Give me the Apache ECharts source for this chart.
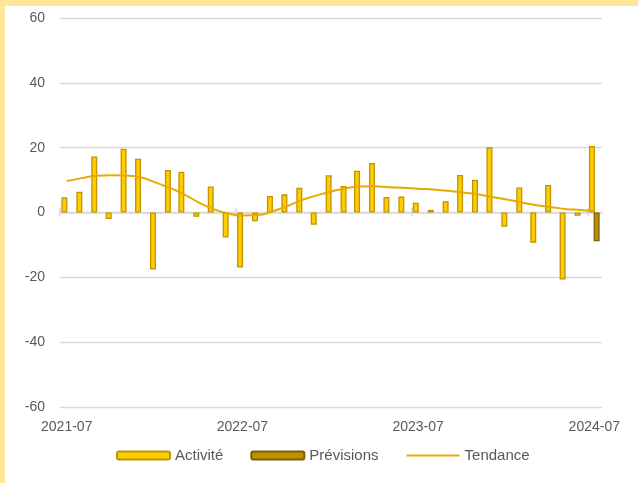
<!DOCTYPE html>
<html>
<head>
<meta charset="utf-8">
<script src="https://cdn.jsdelivr.net/npm/echarts@6/dist/echarts.min.js"></script>
<style>
  html, body { margin: 0; padding: 0; background: #fff; }
  #chart { position: absolute; left: 0; top: 0; width: 638px; height: 483px; }
  .band { position: absolute; background: #ffe699; }
</style>
</head>
<body>
<div id="chart"></div>
<div class="band" style="left:0;top:0;width:638px;height:6px"></div>
<div class="band" style="left:0;top:0;width:5px;height:483px"></div>
<script>
  // mois (donnees au 15 du mois)
  const months = [
    '2021-07', '2021-08', '2021-09', '2021-10', '2021-11', '2021-12',
    '2022-01', '2022-02', '2022-03', '2022-04', '2022-05', '2022-06',
    '2022-07', '2022-08', '2022-09', '2022-10', '2022-11', '2022-12',
    '2023-01', '2023-02', '2023-03', '2023-04', '2023-05', '2023-06',
    '2023-07', '2023-08', '2023-09', '2023-10', '2023-11', '2023-12',
    '2024-01', '2024-02', '2024-03', '2024-04', '2024-05', '2024-06',
    '2024-07'
  ]
  const activite = [
    4.7, 6.4, 17.3, -2.0, 19.7, 16.6, -17.6, 13.1, 12.6, -1.3, 8.0, -7.7,
    -17.0, -2.7, 5.1, 5.6, 7.6, -3.8, 11.5, 8.2, 12.9, 15.3, 4.8, 4.9,
    3.0, 0.8, 3.5, 11.6, 10.1, 20.1, -4.4, 7.7, -9.3, 8.5, -20.7, -1.0,
    20.5
  ]
  const tendance = [
    9.7, 10.6, 11.3, 11.5, 11.4, 10.9, 9.3, 7.5, 5.7, 3.1, 1.1, -0.3,
    -0.9, -0.8, 0.3, 1.9, 3.8, 5.2, 6.5, 7.5, 8.0, 8.1, 7.8, 7.6,
    7.3, 7.1, 6.7, 6.2, 5.6, 4.8, 4.0, 3.1, 2.3, 1.7, 1.1, 0.8,
    0.5
  ]
  const previsionMonths = ['2024-07']
  const previsions = [-8.9]
  const labelMonths = ['2021-07', '2022-07', '2023-07', '2024-07']

  // jours depuis l'epoque, pour un axe de valeurs
  function toDay (ym, day) {
    let parts = ym.split('-')
    return Date.UTC(+parts[0], +parts[1] - 1, day) / 86400000
  }

  const axisMin = toDay('2021-07', 1)
  const axisMax = toDay('2024-07', 31)
  const labelValues = labelMonths.map(m => toDay(m, 15))
  const tickValues = labelMonths.map(m => toDay(m, 1))

  const textColor = '#595959'
  const gridColor = '#d9d9d9'
  const font = 'Liberation Sans'

  // axe du zero : la ligne + les graduations qui la traversent
  function zeroAxis (position, yIndex) {
    return {
      type: 'value',
      min: axisMin,
      max: axisMax,
      position: position,
      axisLine: { show: position === 'top', onZero: true, onZeroAxisIndex: yIndex, lineStyle: { color: gridColor, width: 1.5 } },
      axisTick: {
        show: true,
        inside: false,
        length: position === 'top' ? 5 : 4,
        customValues: tickValues,
        lineStyle: { color: gridColor, width: 1.5 }
      },
      axisLabel: { show: false },
      splitLine: { show: false }
    }
  }

  let chart = echarts.init(document.getElementById('chart'))
  chart.setOption({
    animation: false,
    backgroundColor: '#fff',
    textStyle: { fontFamily: font },
    grid: { left: 60, right: 36, top: 18, bottom: 76 },
    legend: {
      left: 111,
      top: 443,
      itemWidth: 53,
      itemHeight: 8,
      itemGap: 27,
      textStyle: { color: textColor, fontSize: 15, fontFamily: font },
      data: ['Activité', 'Prévisions', { name: 'Tendance', itemStyle: { opacity: 0 } }]
    },
    xAxis: [
      {
        type: 'value',
        min: axisMin,
        max: axisMax,
        position: 'bottom',
        axisLine: { show: false, onZero: false },
        axisTick: { show: false },
        splitLine: { show: false },
        axisLabel: {
          customValues: labelValues,
          color: textColor,
          fontSize: 14,
          fontFamily: font,
          margin: 13,
          formatter: function (v) {
            let d = new Date(v * 86400000)
            let m = d.getUTCMonth() + 1
            return d.getUTCFullYear() + '-' + (m < 10 ? '0' + m : m)
          }
        }
      },
      zeroAxis('top', 0),
      zeroAxis('bottom', 1)
    ],
    yAxis: [
      {
        type: 'value',
        min: -60,
        max: 60,
        interval: 20,
        axisLine: { show: false },
        axisTick: { show: false },
        axisLabel: { color: textColor, fontSize: 14, fontFamily: font, margin: 15 },
        splitLine: { lineStyle: { color: gridColor, width: 1.3 } }
      },
      {
        type: 'value',
        min: -60,
        max: 60,
        interval: 20,
        position: 'right',
        axisLine: { show: false },
        axisTick: { show: false },
        axisLabel: { show: false },
        splitLine: { show: false }
      }
    ],
    series: [
      {
        name: 'Activité',
        type: 'bar',
        xAxisIndex: 0,
        barWidth: 6,
        barGap: '-22%',
        itemStyle: { color: '#ffcc00', borderColor: '#c09400', borderWidth: 1.3 },
        data: months.map((m, i) => [toDay(m, 15), activite[i]])
      },
      {
        name: 'Prévisions',
        type: 'bar',
        xAxisIndex: 0,
        barWidth: 6,
        barGap: '-22%',
        itemStyle: { color: '#bf8f00', borderColor: '#7f6000', borderWidth: 1.3 },
        data: previsionMonths.map((m, i) => [toDay(m, 15), previsions[i]])
      },
      {
        name: 'Tendance',
        type: 'line',
        xAxisIndex: 0,
        smooth: true,
        symbol: 'none',
        z: 5,
        lineStyle: { color: '#e8a900', width: 2 },
        itemStyle: { color: '#e8a900' },
        data: months.map((m, i) => [toDay(m, 15), tendance[i]])
      }
    ]
  })
</script>
</body>
</html>
